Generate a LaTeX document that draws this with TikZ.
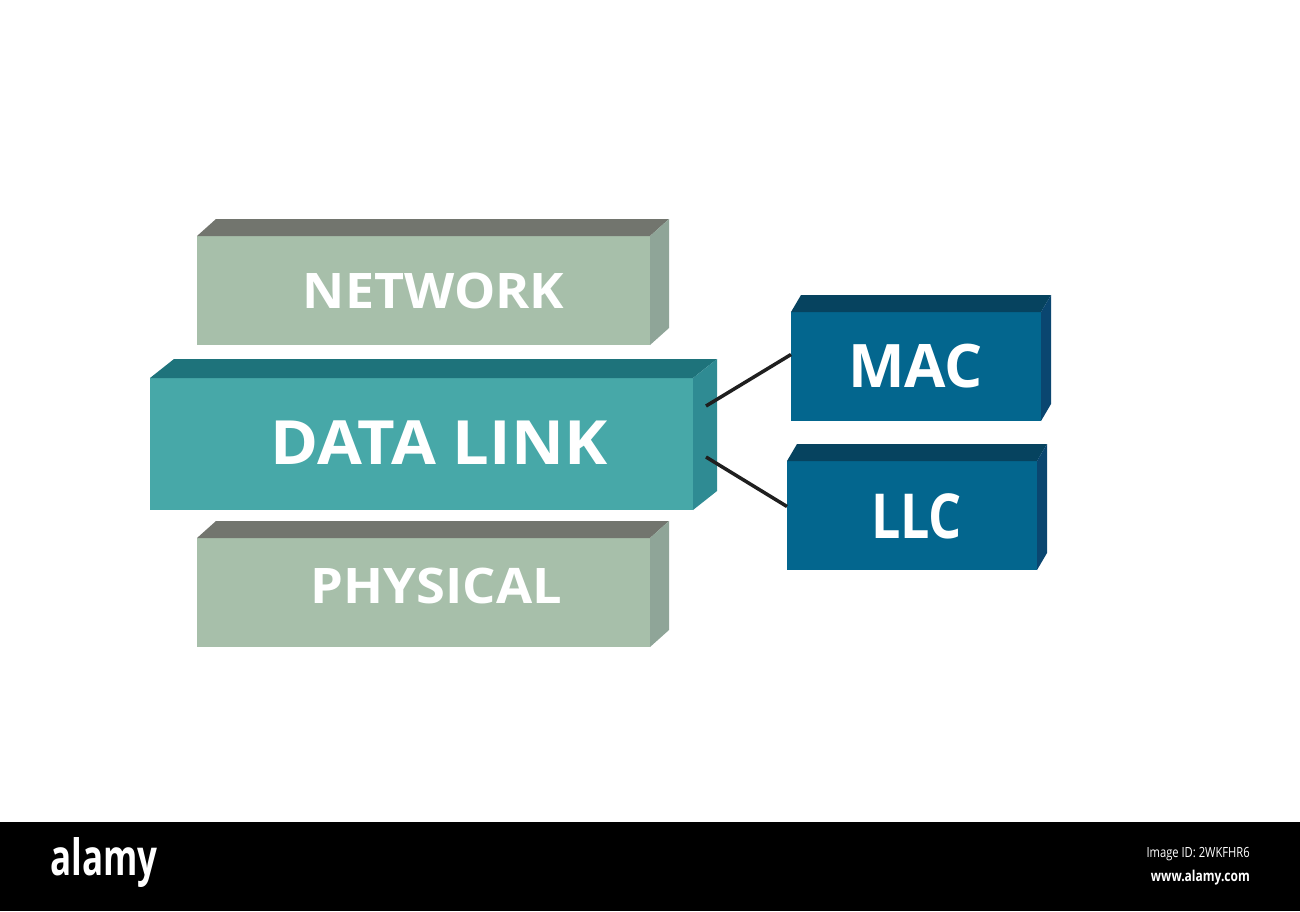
\documentclass[tikz,border=0pt]{standalone}
\usepackage{fontspec}
\setmainfont{Open Sans}
\usetikzlibrary{calc}
\definecolor{grayfront}{HTML}{A7BFAA}
\definecolor{graytop}{HTML}{72756E}
\definecolor{grayside}{HTML}{8FA598}
\definecolor{dlfront}{HTML}{47A8A8}
\definecolor{dltop}{HTML}{1E737B}
\definecolor{dlside}{HTML}{2F8B93}
\definecolor{bluefront}{HTML}{03668E}
\definecolor{bluetop}{HTML}{06435F}
\definecolor{blueside}{HTML}{0A4670}
\tikzset{
  face/.style={inner sep=0pt, outer sep=0pt, text=white, font=\bfseries},
  link/.style={line width=3.5pt, draw=black!88},
}
% #1 node name, #2 dx, #3 dy (depth offset), #4 top colour, #5 side colour
\newcommand{\boxdepth}[5]{%
  \fill[#4] (#1.north west) -- ++(#2,-#3) -- ($(#1.north east)+(#2,-#3)$) -- (#1.north east) -- cycle;
  \fill[#5] (#1.north east) -- ++(#2,-#3) -- ($(#1.south east)+(#2,-#3)$) -- (#1.south east) -- cycle;
}
\begin{document}
\begin{tikzpicture}[x=1pt,y=-1pt]
\useasboundingbox (0,0) rectangle (1300,911);
\fill[white] (0,0) rectangle (1300,911);

% NETWORK
\node[face, fill=grayfront, minimum width=453pt, minimum height=109pt] (net) at (423.5,290.5) {};
\boxdepth{net}{19}{17}{graytop}{grayside}
\node[face, font=\bfseries\fontsize{49}{50}\selectfont] (nett) at (433.5,290.5) {\scalebox{1.06}[1]{NETWORK}};

% PHYSICAL
\node[face, fill=grayfront, minimum width=453pt, minimum height=109pt] (phy) at (423.5,592.5) {};
\boxdepth{phy}{19}{17}{graytop}{grayside}
\node[face, font=\bfseries\fontsize{49}{50}\selectfont] (phyt) at (436.5,586) {\scalebox{1.07}[1]{PHYSICAL}};

% DATA LINK
\node[face, fill=dlfront, minimum width=543pt, minimum height=132pt] (dl) at (421.5,444) {};
\boxdepth{dl}{24}{19}{dltop}{dlside}
\node[face, font=\bfseries\fontsize{61}{62}\selectfont] (dlt) at (439,443) {\scalebox{1.067}[1]{DATA LINK}};

% MAC
\node[face, fill=bluefront, minimum width=250pt, minimum height=109pt] (mac) at (916,366.5) {};
\boxdepth{mac}{10}{17}{bluetop}{blueside}
\node[face, font=\bfseries\fontsize{60}{61}\selectfont] (mact) at (915.5,366.5) {MAC};

% LLC
\node[face, fill=bluefront, minimum width=250pt, minimum height=109pt] (llc) at (912,515.5) {};
\boxdepth{llc}{10}{17}{bluetop}{blueside}
\node[face, font=\bfseries\fontsize{62}{63}\selectfont] (llct) at (916.5,516) {\scalebox{0.84}[1]{LLC}};

% connectors
\coordinate (a1) at ($(dl.east)+(13,-38)$);
\coordinate (b1) at ($(mac.west)+(0,-12)$);
\coordinate (a2) at ($(dl.east)+(13,13)$);
\coordinate (b2) at ($(llc.west)+(0,-9)$);
\draw[link] (a1) -- (b1);
\draw[link] (a2) -- (b2);

% bottom bar
\fill[black] (0,822) rectangle (1300,911);
\node[text=white, font=\bfseries\fontsize{50}{50}\selectfont, inner sep=0pt, anchor=west] (logo) at (50,862) {\scalebox{0.7}[1]{alamy}};
\node[text=white, font=\fontsize{14}{14}\selectfont, inner sep=0pt, anchor=east] (imgid) at (1250,854) {\scalebox{0.8}[1]{Image ID: 2WKFHR6}};
\node[text=white, font=\bfseries\fontsize{15}{15}\selectfont, inner sep=0pt, anchor=east] (www) at (1250,878) {\scalebox{0.8}[1]{www.alamy.com}};
\end{tikzpicture}
\end{document}
